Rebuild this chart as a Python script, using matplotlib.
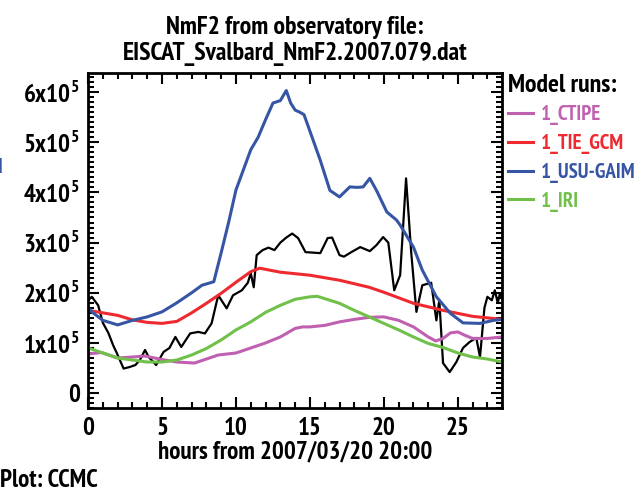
import matplotlib
matplotlib.use('Agg')
import matplotlib.pyplot as plt
from matplotlib.ticker import MultipleLocator, FuncFormatter

FONT = ['PT Sans Narrow', 'DejaVu Sans']
plt.rcParams['font.family'] = FONT
plt.rcParams['font.weight'] = 'bold'
plt.rcParams['mathtext.fontset'] = 'custom'
plt.rcParams['mathtext.rm'] = 'PT Sans Narrow:bold'
plt.rcParams['mathtext.bf'] = 'PT Sans Narrow:bold'

# NmF2 values in units of 1e5
obs_hours = [0, 0.25, 0.68, 1.0, 1.37, 1.7, 1.94, 2.4, 2.8, 3.2, 3.5, 3.85, 4.1, 4.6, 5.1,
             5.5, 5.9, 6.3, 6.9, 7.45, 7.9, 8.35, 8.8, 9.37, 9.8, 10.4, 10.8, 11.0, 11.2,
             11.4, 11.8, 12.2, 12.6, 13.0, 13.4, 13.8, 14.2, 14.7, 15.2, 15.7, 16.2, 16.5,
             17.0, 17.3, 17.8, 18.4, 19.05, 19.5, 19.95, 20.3, 20.7, 21.1, 21.5, 21.85,
             22.2, 22.6, 23.2, 23.55, 23.75, 24.0, 24.45, 24.9, 25.35, 25.8, 26.25, 26.5,
             26.8, 27.0, 27.3, 27.5, 27.7, 27.85, 28.0]
obs_nmf2 = [1.85, 1.92, 1.75, 1.4, 1.2, 0.95, 0.8, 0.49, 0.52, 0.56, 0.66, 0.86, 0.72, 0.56,
            0.82, 0.9, 1.12, 0.92, 1.19, 1.22, 1.19, 1.39, 1.95, 1.69, 1.95, 2.05, 2.2, 2.39,
            2.11, 2.75, 2.85, 2.9, 2.85, 3.0, 3.1, 3.18, 3.09, 2.81, 2.8, 2.79, 3.09, 3.1,
            2.75, 2.72, 2.81, 2.91, 2.83, 2.95, 3.11, 3.0, 2.05, 2.35, 4.28, 2.8, 1.62,
            2.15, 2.2, 1.45, 1.85, 0.6, 0.42, 0.62, 0.9, 1.02, 1.1, 0.72, 1.7, 1.92, 1.85,
            2.05, 1.8, 1.99, 1.9]

ctipe_hours = [0, 0.9, 2, 3, 3.85, 5, 6, 7.2, 8, 8.8, 10, 11, 12, 13, 14, 14.5, 15, 16, 17,
               18, 19, 20, 21, 22, 23, 23.5, 24, 24.5, 25, 25.5, 26, 27, 28]
ctipe_nmf2 = [0.78, 0.81, 0.7, 0.72, 0.74, 0.67, 0.62, 0.6, 0.68, 0.76, 0.8, 0.9, 1.0, 1.12,
              1.29, 1.32, 1.32, 1.35, 1.42, 1.47, 1.51, 1.52, 1.45, 1.32, 1.12, 1.04, 1.09,
              1.2, 1.22, 1.15, 1.09, 1.09, 1.12]

tiegcm_hours = [0, 2, 3, 4, 5, 6, 7, 8, 9, 10, 11, 11.6, 13, 15, 17, 19, 20, 22, 24, 26, 28]
tiegcm_nmf2 = [1.65, 1.55, 1.46, 1.41, 1.39, 1.43, 1.6, 1.79, 1.99, 2.21, 2.42, 2.49, 2.41,
               2.35, 2.25, 2.11, 2.01, 1.79, 1.65, 1.53, 1.47]

gaim_hours = [0, 0.25, 1, 2, 3, 4, 5, 6, 7, 7.7, 8.5, 9, 9.5, 10, 10.5, 11, 11.5, 12, 12.5,
              13, 13.4, 13.7, 14, 14.3, 14.6, 15.0, 15.7, 16.35, 17.0, 17.7, 18.2, 18.6,
              19.05, 19.5, 20.2, 20.85, 21.1, 22.0, 22.6, 23.55, 24.5, 25.35, 26.5, 27.4, 28]
gaim_nmf2 = [1.7, 1.62, 1.45, 1.36, 1.45, 1.52, 1.62, 1.8, 2.0, 2.15, 2.22, 2.8, 3.4, 4.05,
             4.45, 4.85, 5.1, 5.45, 5.78, 5.83, 6.03, 5.78, 5.64, 5.6, 5.55, 5.22, 4.64,
             4.04, 3.91, 4.11, 4.1, 4.11, 4.28, 4.04, 3.61, 3.45, 3.35, 2.91, 2.45, 1.92,
             1.59, 1.4, 1.39, 1.45, 1.47]

iri_hours = [0, 1, 2, 3, 4, 5, 6, 7, 8, 9, 10, 11, 12, 13, 14, 15, 15.5, 17, 18, 19, 20,
             21, 22, 23, 24, 25, 26, 27, 28]
iri_nmf2 = [0.9, 0.8, 0.7, 0.66, 0.62, 0.62, 0.66, 0.76, 0.89, 1.06, 1.26, 1.42, 1.61, 1.75,
            1.87, 1.92, 1.93, 1.79, 1.65, 1.52, 1.39, 1.26, 1.12, 0.99, 0.91, 0.8, 0.72,
            0.68, 0.62]

model_names = ['1_CTIPE', '1_TIE_GCM', '1_USU-GAIM', '1_IRI']
model_colors = ['#c060b0', '#ee2a30', '#3655a5', '#70c04a']

fig = plt.figure(figsize=(6.43, 4.93), dpi=100)
ax = fig.add_axes([0.137, 0.172, 0.644, 0.680])

ax.plot(obs_hours, [v * 1e5 for v in obs_nmf2], color='black', lw=1.6)
model_series = [(ctipe_hours, ctipe_nmf2), (tiegcm_hours, tiegcm_nmf2),
                (gaim_hours, gaim_nmf2), (iri_hours, iri_nmf2)]
for (hrs, vals), name, col in zip(model_series, model_names, model_colors):
    ax.plot(hrs, [v * 1e5 for v in vals], color=col, lw=2.2, label=name)

ax.set_xlim(0, 28)
ax.set_ylim(-0.3e5, 6.38e5)

ax.xaxis.set_major_locator(MultipleLocator(5))
ax.xaxis.set_minor_locator(MultipleLocator(1))
ax.yaxis.set_major_locator(MultipleLocator(1e5))
ax.yaxis.set_minor_locator(MultipleLocator(1e4))


def yfmt(v, pos):
    n = int(round(v / 1e5))
    if n == 0:
        return '0'
    return r'$\mathrm{%dx10}^{5}$' % n


ax.yaxis.set_major_formatter(FuncFormatter(yfmt))
ax.tick_params(which='both', direction='in', top=True, right=True, width=1.5, labelsize=18)
ax.tick_params(which='major', length=8, pad=6)
ax.tick_params(which='minor', length=4)
for sp in ax.spines.values():
    sp.set_linewidth(2)
for lbl in ax.get_xticklabels() + ax.get_yticklabels():
    lbl.set_fontweight('bold')

ax.set_title('NmF2 from observatory file:\nEISCAT_Svalbard_NmF2.2007.079.dat',
             fontsize=18.5, fontweight='bold', linespacing=1.2, pad=9)
ax.set_xlabel('hours from 2007/03/20 20:00', fontsize=18, fontweight='bold', labelpad=1)

leg = ax.legend(loc='upper left', bbox_to_anchor=(1.015, 0.998), frameon=False,
                borderpad=0, borderaxespad=0,
                title='Model runs:', labelcolor='linecolor', handlelength=1.2,
                handletextpad=0.35, labelspacing=0.42, alignment='left',
                prop={'size': 15, 'weight': 'bold'},
                title_fontproperties={'size': 18.5, 'weight': 'bold'})

fig.text(0.0, 0.026, 'Plot: CCMC', fontsize=18, fontweight='bold', va='center')
fig.text(-0.004, 0.66, 'I', color='#3655a5', fontsize=15, fontweight='bold', va='center')

fig.savefig('out.png', dpi=100)
